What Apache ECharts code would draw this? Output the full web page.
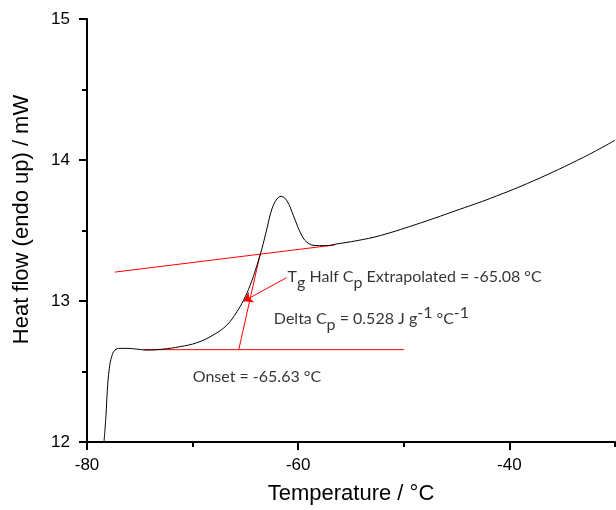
<!DOCTYPE html>
<html><head><meta charset="utf-8">
<script src="https://cdn.jsdelivr.net/npm/echarts@6/dist/echarts.min.js"></script>
<style>html,body{margin:0;padding:0;background:#fff}#c{width:616px;height:510px}</style>
</head><body><div id="c"></div>
<script>
// DSC curve
const temperature = [-78.39, -78.20, -78.08, -77.89, -77.66, -77.35, -76.87, -76.2, -75.2, -74.3, -72.8, -71.2, -69.6, -68.06, -66.76, -65.81, -65.18, -64.55, -63.91, -63.44, -62.97, -62.49, -62.02, -61.61, -61.07, -60.45, -59.81, -59.18, -58.23, -57.28, -56.33, -54.44, -52.23, -48.44, -44.64, -41.80, -37.73, -32.99, -30.0];
const heatFlow = [12.00, 12.19, 12.36, 12.52, 12.607, 12.652, 12.664, 12.664, 12.658, 12.652, 12.659, 12.676, 12.704, 12.758, 12.829, 12.923, 13.005, 13.111, 13.252, 13.370, 13.511, 13.652, 13.723, 13.742, 13.711, 13.605, 13.488, 13.417, 13.393, 13.393, 13.405, 13.428, 13.464, 13.553, 13.652, 13.728, 13.852, 14.019, 14.14];

// Construction lines (red)
const upperBaseline = [[-77.35, 13.205], [-56.49, 13.398]];
const lowerBaseline = [[-74.66, 12.655], [-50.0, 12.655]];
const tangentLine = [[-65.63, 12.655], [-63.60, 13.334]];
const arrowLine = [[-61.11, 13.165], [-65.18, 12.998]];

// Annotations
const annotTg = { at: [-61.1, 13.172], text: '{n|T}{s|g}{n| Half C}{s|p}{n| Extrapolated = -65.08 °C}' };
const annotDelta = { at: [-62.40, 12.875], text: '{n|Delta C}{s|p}{n| = 0.528 J g}{u|-1}{n| °C}{u|-1}' };
const annotOnset = { at: [-70.08, 12.459], text: '{n|Onset = -65.63 °C}' };

// Axes
const xMajorTicks = [-80, -60, -40];
const xMinorTicks = [-70, -50, -30];
const xRange = [-80, -30];
const yRange = [12, 15];

const AX = 'Liberation Sans, Arial, sans-serif';
const AN = 'Lato, sans-serif';
const chart = echarts.init(document.getElementById('c'));

const rich = {
  n: { fontFamily: AN, fontSize: 16, color: '#000', verticalAlign: 'middle' },
  s: { fontFamily: AN, fontSize: 16, color: '#000', padding: [12, 0, 0, 0], verticalAlign: 'middle' },
  u: { fontFamily: AN, fontSize: 16, color: '#000', padding: [0, 0, 12, 0], verticalAlign: 'middle' }
};
function annotSeries(a) {
  return {
    type: 'scatter', symbolSize: 0, silent: true,
    data: [a.at],
    label: { show: true, position: 'right', distance: 1, formatter: a.text, rich: rich, verticalAlign: 'middle', align: 'left' },
    z: 5
  };
}
function redLine(pts) {
  return { type: 'line', data: pts, symbol: 'none', silent: true, lineStyle: { color: '#ff0000', width: 1 }, z: 3 };
}

chart.setOption({
  animation: false,
  backgroundColor: '#fff',
  grid: { left: 87, right: 1, top: 19, bottom: 66 },
  xAxis: [{
    type: 'value', min: xRange[0], max: xRange[1],
    name: 'Temperature / °C', nameLocation: 'middle', nameGap: 41,
    nameTextStyle: { fontFamily: AX, fontSize: 22, color: '#000' },
    axisLine: { show: true, lineStyle: { color: '#000', width: 2 } },
    axisTick: { show: true, length: 8, inside: false, customValues: xMajorTicks, lineStyle: { color: '#000', width: 2 } },
    axisLabel: { customValues: xMajorTicks, fontFamily: AX, fontSize: 17, color: '#000', margin: 15 },
    splitLine: { show: false }
  }, {
    type: 'value', min: xRange[0], max: xRange[1], position: 'bottom',
    axisLine: { show: false },
    axisTick: { show: true, length: 5, customValues: xMinorTicks, lineStyle: { color: '#000', width: 2 } },
    axisLabel: { show: false },
    splitLine: { show: false }
  }],
  yAxis: {
    type: 'value', min: yRange[0], max: yRange[1], interval: 1,
    name: 'Heat flow (endo up) / mW', nameLocation: 'middle', nameGap: 54,
    nameTextStyle: { fontFamily: AX, fontSize: 22, color: '#000', padding: [0, 0, 0, 22] },
    axisLine: { show: true, lineStyle: { color: '#000', width: 2 } },
    axisTick: { show: true, length: 8, lineStyle: { color: '#000', width: 2 } },
    minorTick: { show: true, splitNumber: 2, length: 5, lineStyle: { color: '#000', width: 2 } },
    axisLabel: { fontFamily: AX, fontSize: 17, color: '#000', margin: 17 },
    splitLine: { show: false }
  },
  series: [
    redLine(upperBaseline),
    redLine(lowerBaseline),
    redLine(tangentLine),
    {
      type: 'lines', coordinateSystem: 'cartesian2d', silent: true,
      symbol: ['none', 'arrow'], symbolSize: 9,
      lineStyle: { color: '#ff0000', width: 1, opacity: 1 },
      data: [{ coords: arrowLine }], z: 4
    },
    {
      type: 'line', data: temperature.map((t, i) => [t, heatFlow[i]]),
      symbol: 'none', smooth: 0.4, silent: true,
      lineStyle: { color: '#000', width: 1 }, z: 4
    },
    annotSeries(annotTg),
    annotSeries(annotDelta),
    annotSeries(annotOnset)
  ]
});
</script>
</body></html>
